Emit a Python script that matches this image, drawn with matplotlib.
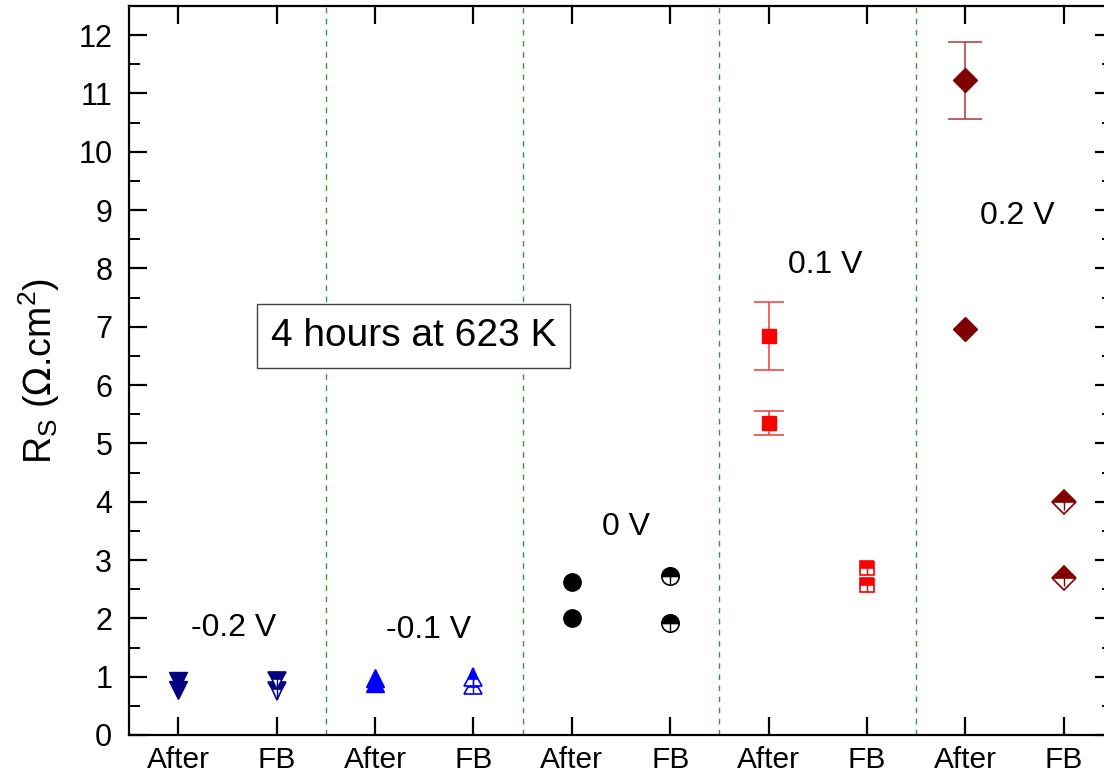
import matplotlib
matplotlib.use("Agg")
import matplotlib.pyplot as plt
from matplotlib.ticker import MultipleLocator

plt.rcParams['font.family'] = ['Liberation Sans', 'DejaVu Sans']

#%% DATA
x_pos = [1, 2, 3, 4, 5, 6, 7, 8, 9, 10]
x_labels = ["After", "FB"] * 5
dividers = [2.5, 4.5, 6.5, 8.5]

# -0.2 V
neg02_after = [0.92, 0.78]
neg02_fb = [0.92, 0.76]
# -0.1 V
neg01_after = [0.97, 0.90]
neg01_fb = [1.00, 0.86]
# 0 V
zero_after = [2.62, 2.00]
zero_fb = [2.72, 1.92]
# 0.1 V
pos01_after = [6.84, 5.35]
pos01_after_err = [0.58, 0.20]
pos01_fb = [2.86, 2.57]
# 0.2 V
pos02_after = [11.23, 6.96]
pos02_after_err = [0.66, 0.0]
pos02_fb = [3.99, 2.69]

group_labels = ["-0.2 V", "-0.1 V", "0 V", "0.1 V", "0.2 V"]
group_label_x = [1.56, 3.54, 5.55, 7.58, 9.53]
group_label_y = [1.83, 1.80, 3.57, 8.06, 8.90]

#%% FIGURE
fig = plt.figure(figsize=(11.04, 7.79), dpi=100)
ax = fig.add_axes([129 / 1104, 44 / 779, 984 / 1104, 729 / 779])


def filled(x, ys, marker, color, ms, err=None, ecolor=None, capsize=10):
    if err is not None:
        # only draw bars where there is an actual error value
        ey = [y for y, e in zip(ys, err) if e > 0]
        ee = [e for e in err if e > 0]
        ax.errorbar([x] * len(ey), ey, yerr=ee, fmt='none', ecolor=ecolor,
                    elinewidth=1.2, capsize=capsize, capthick=1.2, zorder=2)
    ax.plot([x] * len(ys), ys, linestyle='none', marker=marker, ms=ms, color=color,
            mec=color, zorder=3)


def half(x, ys, marker, color, ms):
    xs = [x] * len(ys)
    ax.plot(xs, ys, linestyle='none', marker=marker, ms=ms, color=color,
            fillstyle='top', markerfacecoloralt='white', mec=color, mew=1.2, zorder=3)
    ax.plot(xs, ys, linestyle='none', marker='|', ms=ms * 0.9, mec=color,
            mew=1.0, zorder=4)


filled(1, neg02_after, 'v', '#000080', 13)
half(2, neg02_fb, 'v', '#000080', 13)
filled(3, neg01_after, '^', '#0000ff', 13)
half(4, neg01_fb, '^', '#0000ff', 13)
filled(5, zero_after, 'o', 'black', 12.5)
half(6, zero_fb, 'o', 'black', 12.5)
filled(7, pos01_after, 's', '#ff0000', 10.5, err=pos01_after_err, ecolor='#f04848', capsize=11)
half(8, pos01_fb, 's', '#ff0000', 10.5)
filled(9, pos02_after, 'D', '#800000', 12, err=pos02_after_err, ecolor='#b04545', capsize=12)
half(10, pos02_fb, 'D', '#800000', 12)

for xd in dividers:
    ax.axvline(xd, color='#2e9e2e', lw=1.0, ls=(0, (4, 4)), zorder=1)

for lbl, lx, ly in zip(group_labels, group_label_x, group_label_y):
    ax.text(lx, ly, lbl, fontsize=23, ha='center', va='center')

ax.text(3.39, 6.84, "4 hours at 623 K", fontsize=28, ha='center', va='center',
        bbox=dict(boxstyle='square,pad=0.35', fc='white', ec='#444444', lw=1.0))

#%% AXES
ax.set_xlim(0.5, 10.5)
ax.set_ylim(0, 12.5)
ax.set_xticks(x_pos)
ax.set_xticklabels(x_labels)
ax.yaxis.set_major_locator(MultipleLocator(1))
ax.yaxis.set_minor_locator(MultipleLocator(0.5))
ax.tick_params(axis='both', which='major', direction='in', length=13, width=1.6,
               top=True, right=True)
ax.tick_params(axis='y', which='minor', direction='in', length=8, width=1.4, right=True)
ax.tick_params(axis='x', labelsize=21.5, pad=8)
ax.tick_params(axis='y', labelsize=22, pad=12)
for sp in ax.spines.values():
    sp.set_linewidth(1.6)

ax.set_ylabel(r"R$_\mathregular{S}$ ($\Omega$.cm$^\mathregular{2}$)", fontsize=27, labelpad=12)

fig.savefig("out.png", dpi=100)
